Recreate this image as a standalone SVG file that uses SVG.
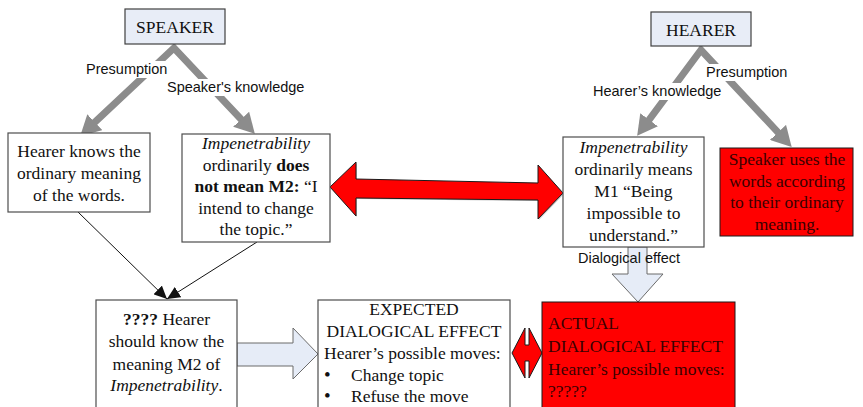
<svg xmlns="http://www.w3.org/2000/svg" width="863" height="407" viewBox="0 0 863 407">
<style>
.box{fill:#ffffff;stroke:#4d4d4d;stroke-width:1.2}
.top{fill:#e8edf7;stroke:#404040;stroke-width:1.2}
.red{fill:#ff0000;stroke:#1a1a1a;stroke-width:1}
.t{font-family:"Liberation Serif","Times New Roman",serif;font-size:17.5px;fill:#111111}
.tc{text-anchor:middle}
.tr{fill:#3a0000}
.bul{font-size:19px}
.lab{font-family:"Liberation Sans",Arial,sans-serif;font-size:14.5px;fill:#111111}
.bg{fill:#ffffff}
.gray{fill:none;stroke:#8c8c8c;stroke-width:7;stroke-linejoin:miter;stroke-miterlimit:10}
.thin{fill:none;stroke:#111111;stroke-width:1}
.blk{fill:#e6ecf7;stroke:#6b6b6b;stroke-width:1}
.i{font-style:italic}
.b{font-weight:bold}
</style>
<defs>
<marker id="gh" viewBox="0 -11 20 22" markerUnits="userSpaceOnUse" markerWidth="20" markerHeight="22" refX="1" refY="0" orient="auto-start-reverse">
<path d="M0,-11 L20,0 L0,11 z" fill="#8c8c8c"/>
</marker>
<marker id="bh" viewBox="0 -6 13 12" markerUnits="userSpaceOnUse" markerWidth="13" markerHeight="12" refX="13" refY="0" orient="auto">
<path d="M0,-6 L13,0 L0,6 z" fill="#111111"/>
</marker>
</defs>

<g id="connectors">
<path class="gray" d="M94.1,122.9 L174,48 L241.8,120" marker-start="url(#gh)" marker-end="url(#gh)"/>
<path class="gray" d="M648.5,120.6 L701,50 L778.7,133.1" marker-start="url(#gh)" marker-end="url(#gh)"/>
<rect class="bg" x="84" y="61" width="86" height="17"/>
<text class="lab" x="86" y="74">Presumption</text>
<rect class="bg" x="165" y="79" width="143" height="17"/>
<text class="lab" x="167" y="92">Speaker's knowledge</text>
<rect class="bg" x="591" y="83" width="134" height="17"/>
<text class="lab" x="593" y="96">Hearer’s knowledge</text>
<rect class="bg" x="704" y="64" width="86" height="17"/>
<text class="lab" x="706" y="77">Presumption</text>
<line class="thin" x1="78" y1="212" x2="167" y2="299" marker-end="url(#bh)"/>
<line class="thin" x1="257" y1="242" x2="167" y2="299" marker-end="url(#bh)"/>
<polygon points="331,188 357,163 357,180 539,184 539,166 564,194 539,220 539,201 357,199 357,217" fill="#9a9a9a" opacity="0.5"/>
<polygon class="red" points="330,187 356,162 356,179 538,183 538,165 563,193 538,219 538,200 356,198 356,216"/>
<polygon class="blk" points="237,343 293,343 293,328 318,354 293,379 293,366 237,366"/>
<polygon class="blk" points="628,247 647,247 647,274 663,274 638,302 612,274 628,274"/>
<text class="lab" x="578" y="263">Dialogical effect</text>
<polygon class="red" points="512,353 525,328 525,345 529,345 529,328 542,353 529,378 529,361 525,361 525,378"/>
</g>

<g id="speaker">
<rect class="top" x="125" y="9" width="100" height="35"/>
<text class="t tc" x="175" y="33">SPEAKER</text>
</g>

<g id="hearer">
<rect class="top" x="651" y="12" width="100" height="34"/>
<text class="t tc" x="701" y="36">HEARER</text>
</g>

<g id="hearer-knows">
<rect class="box" x="8" y="133" width="142" height="79"/>
<text class="t tc" x="79" y="157">Hearer knows the</text>
<text class="t tc" x="79" y="179">ordinary meaning</text>
<text class="t tc" x="79" y="201">of the words.</text>
</g>

<g id="speaker-impenetrability">
<rect class="box" x="182" y="134" width="148" height="108"/>
<text class="t tc i" x="256" y="149">Impenetrability</text>
<text class="t tc" x="256" y="171">ordinarily <tspan class="b">does</tspan></text>
<text class="t tc" x="256" y="192"><tspan class="b">not mean M2:</tspan> “I</text>
<text class="t tc" x="256" y="214">intend to change</text>
<text class="t tc" x="256" y="235">the topic.”</text>
</g>

<g id="hearer-impenetrability">
<rect class="box" x="563" y="137" width="141" height="110"/>
<text class="t tc i" x="633.5" y="153">Impenetrability</text>
<text class="t tc" x="633.5" y="175">ordinarily means</text>
<text class="t tc" x="633.5" y="197">M1 “Being</text>
<text class="t tc" x="633.5" y="219">impossible to</text>
<text class="t tc" x="633.5" y="241">understand.”</text>
</g>

<g id="speaker-uses">
<rect class="red" x="720" y="148" width="133" height="88"/>
<text class="t tc tr" x="787" y="165">Speaker uses the</text>
<text class="t tc tr" x="787" y="187">words according</text>
<text class="t tc tr" x="787" y="208">to their ordinary</text>
<text class="t tc tr" x="787" y="230">meaning.</text>
</g>

<g id="should-know">
<rect class="box" x="96" y="300" width="141" height="112"/>
<text class="t tc" x="166.5" y="325"><tspan class="b">????</tspan> Hearer</text>
<text class="t tc" x="166.5" y="347">should know the</text>
<text class="t tc" x="166.5" y="370">meaning M2 of</text>
<text class="t tc" x="166.5" y="391"><tspan class="i">Impenetrability</tspan>.</text>
</g>

<g id="expected">
<rect class="box" x="318" y="300" width="192" height="112"/>
<text class="t tc" x="414" y="315">EXPECTED</text>
<text class="t tc" x="414" y="337">DIALOGICAL EFFECT</text>
<text class="t" x="324" y="359">Hearer’s possible moves:</text>
<text class="t bul" x="324" y="381">•</text>
<text class="t" x="351" y="381">Change topic</text>
<text class="t bul" x="324" y="402">•</text>
<text class="t" x="351" y="402">Refuse the move</text>
</g>

<g id="actual">
<rect class="red" x="542" y="302" width="193" height="110"/>
<text class="t tr" x="548" y="329">ACTUAL</text>
<text class="t tr" x="548" y="352">DIALOGICAL EFFECT</text>
<text class="t tr" x="548" y="375">Hearer’s possible moves:</text>
<text class="t tr" x="548" y="397">?????</text>
</g>
</svg>
